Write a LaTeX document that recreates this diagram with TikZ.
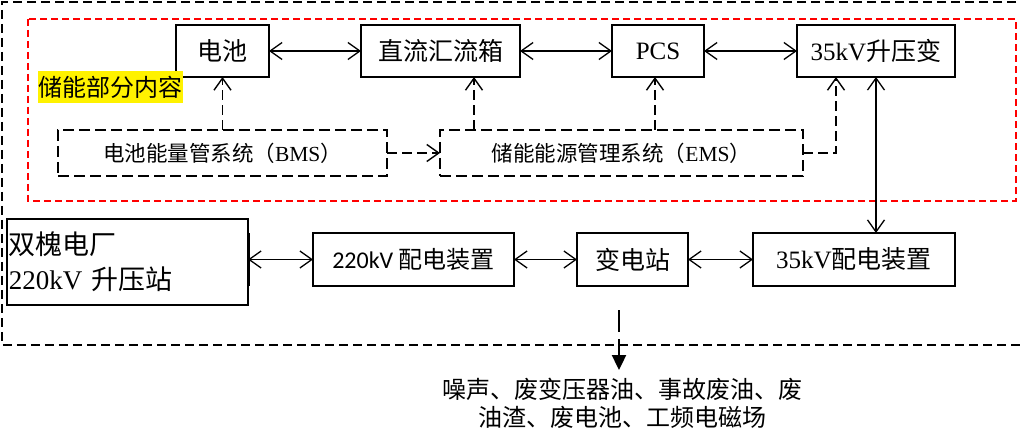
\documentclass[tikz,border=0pt]{standalone}
\usepackage{fontspec}
\setmainfont{Liberation Serif}
\newfontfamily\cjk{Noto Sans CJK SC}
\newfontfamily\calib{Carlito}
\newcommand{\zh}[1]{{\cjk #1}}
\usetikzlibrary{arrows.meta, positioning}

\begin{document}
\begin{tikzpicture}[
    x=1pt, y=-1pt,
    node distance=92pt,
    block/.style={rectangle, draw, line width=1.6pt, outer sep=0pt, inner sep=2pt, minimum height=52pt, text centered, font=\fontsize{25}{30}\selectfont},
    sysbox/.style={rectangle, draw, line width=1.4pt, dash pattern=on 11pt off 5pt, outer sep=0pt, minimum height=46pt, text centered, font=\fontsize{21.5}{25}\selectfont},
    link/.style={draw, line width=1.3pt, {Straight Barb[length=12pt,width=17pt]}-{Straight Barb[length=12pt,width=17pt]}},
    ctrl/.style={draw, line width=1.4pt, dash pattern=on 10pt off 5pt, -{Straight Barb[length=12pt,width=17pt]}},
    emitline/.style={draw, line width=2.4pt, dash pattern=on 22pt off 7pt, -{Triangle[length=15pt,width=14pt]}}
]
\useasboundingbox (0,0) rectangle (1021,433);

% Frames
\draw[line width=1.8pt, dash pattern=on 9pt off 5pt] (1030,2) -| (2,345) -- (1030,345);
\draw[red, line width=1.6pt, dash pattern=on 7pt off 4pt] (28,19) rectangle (1016,201);

% Storage row
\node[block, minimum width=93pt] (bat) at (222.5,51) {\zh{电池}};
\node[block, minimum width=159pt, right=of bat] (dc) {\zh{直流汇流箱}};
\node[block, minimum width=92pt, right=of dc] (pcs) {PCS};
\node[block, minimum width=158pt, right=93pt of pcs] (up) {35kV\zh{升压变}};
\node[fill=yellow, minimum width=145pt, minimum height=32pt, inner sep=0pt, font=\fontsize{24}{28}\selectfont] (tag) at (110.5,87) {\zh{储能部分内容}};

% Management systems
\node[sysbox, minimum width=329pt, below=53pt of bat] (bms) {\zh{电池能量管系统（}BMS\zh{）}};
\node[sysbox, minimum width=363pt, right=53pt of bms] (ems) {\zh{储能能源管理系统（}EMS\zh{）}};

% Grid row
\node[block, minimum width=241pt, minimum height=86pt, text width=237pt, align=left, font=\fontsize{27}{35}\selectfont] (plant) at (127.5,262) {\zh{双槐电厂}\\220kV \zh{升压站}};
\node[block, minimum width=201pt, minimum height=53pt, font=\calib\fontsize{24}{28}\selectfont] (hv) at (413.5,259.5) {220kV \zh{配电装置}};
\node[block, minimum width=111pt, minimum height=53pt, right=63pt of hv] (sub) {\zh{变电站}};
\node[block, minimum width=202pt, minimum height=53pt, right=65pt of sub] (mv) {35kV\zh{配电装置}};

% Emissions
\node[inner xsep=0pt, inner ysep=8pt, anchor=north, align=center, font=\fontsize{24}{28}\selectfont] (waste) at (622,370) {\zh{噪声、废变压器油、事故废油、废}\\\zh{油渣、废电池、工频电磁场}};
\coordinate (emit) at (619,310);

% Power flow
\draw[link] (bat) -- (dc);
\draw[link] (dc) -- (pcs);
\draw[link] (pcs) -- (up);
\draw[link] (up.south) -- (up.south |- mv.north);
\draw[line width=3pt] (plant.east |- hv.north) -- (plant.east |- hv.south);
\draw[link] (plant.east |- hv.west) -- (hv.west);
\draw[link] (hv) -- (sub);
\draw[link] (sub) -- (mv);

% Control
\coordinate (dcin) at ([xshift=33.5pt]dc.south);
\coordinate (pcsin) at ([xshift=-3pt]pcs.south);
\coordinate (upin) at ([xshift=-40pt]up.south);
\draw[ctrl] (bms) -- (bat);
\draw[ctrl] (bms) -- (ems);
\draw[ctrl] (dcin |- ems.north) -- (dcin);
\draw[ctrl] (pcsin |- ems.north) -- (pcsin);
\draw[ctrl] (ems.east) -| (upin);

\draw[emitline] (emit) -- (emit |- waste.north);

\end{tikzpicture}
\end{document}
